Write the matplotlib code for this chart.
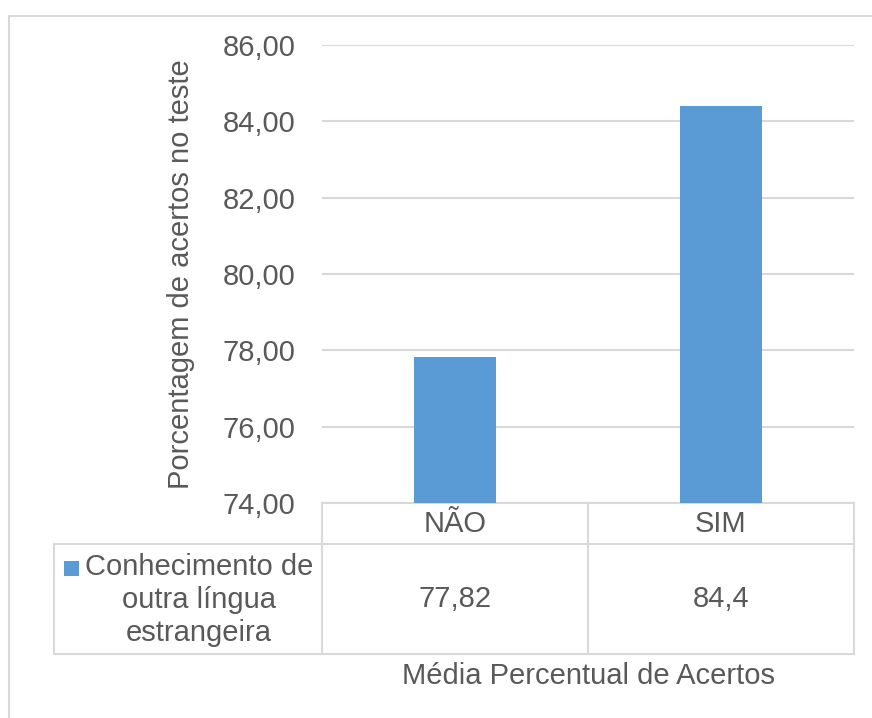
import matplotlib.pyplot as plt
from matplotlib.patches import Rectangle
from matplotlib.lines import Line2D
from matplotlib.transforms import blended_transform_factory

categories = ["NÃO", "SIM"]
valores = [77.82, 84.4]
rotulos_tabela = ["77,82", "84,4"]
serie = "Conhecimento de\noutra língua\nestrangeira"
y_ticks = [74, 76, 78, 80, 82, 84, 86]

azul = "#5B9BD5"
cinza_texto = "#595959"
cinza_linha = "#D9D9D9"
fs = 21

plt.rcParams['font.family'] = ['Liberation Sans', 'DejaVu Sans']

W, H = 872, 718
fig = plt.figure(figsize=(W / 100, H / 100), dpi=100)

def fx(px):
    return px / W

def fy(py):
    return 1 - py / H

# moldura externa do gráfico
fig.add_artist(Rectangle((fx(9), fy(760)), 1.2, fy(16) - fy(760),
                         transform=fig.transFigure, fill=False,
                         edgecolor=cinza_linha, linewidth=1.5))

ax = fig.add_axes([fx(322), fy(503), fx(854) - fx(322), fy(45) - fy(503)])
x = list(range(len(categories)))
ax.bar(x, valores, width=0.31, color=azul, zorder=3)
ax.set_xlim(-0.5, 1.5)
ax.set_ylim(74, 86)
ax.set_yticks(y_ticks)
ax.set_yticklabels([f"{v:.2f}".replace(".", ",") for v in y_ticks])
ax.yaxis.grid(True, color=cinza_linha, linewidth=1.5, zorder=0)
ax.set_xticks([])
ax.tick_params(axis='y', length=0, pad=19, labelsize=fs, labelcolor=cinza_texto)
for s in ax.spines.values():
    s.set_visible(False)
ax.set_ylabel("Porcentagem de acertos no teste", fontsize=fs, color=cinza_texto,
              labelpad=20)

# tabela de dados abaixo do eixo
tr = blended_transform_factory(ax.transData, ax.transAxes)
h_ax = 503 - 45
y_cab = -(544 - 503) / h_ax
y_base = -(654 - 503) / h_ax
x_esq = -0.5 - (322 - 54) / 266

def linha(xs, ys):
    ax.add_line(Line2D(xs, ys, transform=tr, color=cinza_linha,
                       linewidth=1.5, clip_on=False))

linha([-0.5, 1.5], [0, 0])
linha([x_esq, 1.5], [y_cab, y_cab])
linha([x_esq, 1.5], [y_base, y_base])
linha([x_esq, x_esq], [y_cab, y_base])
for xv in [-0.5, 0.5, 1.5]:
    linha([xv, xv], [0, y_base])

for xi, cat, rot in zip(x, categories, rotulos_tabela):
    ax.text(xi, y_cab / 2, cat, transform=tr, ha='center', va='center',
            fontsize=fs, color=cinza_texto)
    ax.text(xi, (y_cab + y_base) / 2, rot, transform=tr, ha='center',
            va='center', fontsize=fs, color=cinza_texto)

fig.text(fx(199), fy(600), serie, ha='center', va='center',
         multialignment='center', fontsize=fs, color=cinza_texto,
         linespacing=1.22)
fig.add_artist(Rectangle((fx(64), fy(576)), fx(15), fy(561) - fy(576),
                         transform=fig.transFigure, facecolor=azul,
                         edgecolor='none'))

fig.text(fx(588), fy(676), "Média Percentual de Acertos", ha='center',
         va='center', fontsize=fs, color=cinza_texto)

fig.savefig("out.png", dpi=100)
